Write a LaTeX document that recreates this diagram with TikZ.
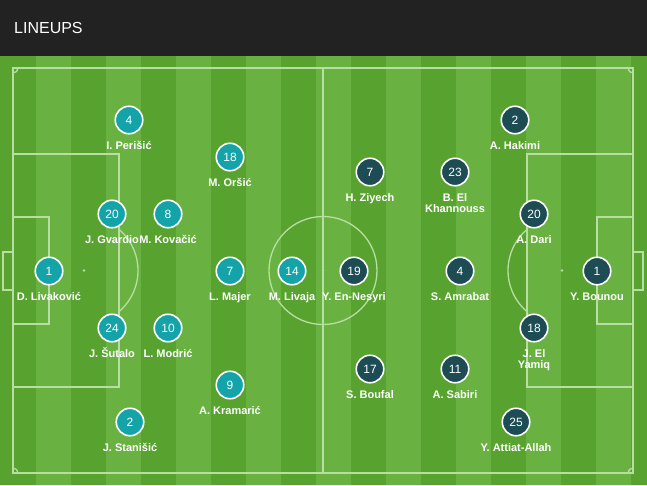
\documentclass[tikz,border=0pt]{standalone}
\usepackage{fontspec}
\setmainfont{Liberation Sans}
\usetikzlibrary{calc}

\definecolor{topbar}{HTML}{222222}
\definecolor{grassdark}{HTML}{58A22F}
\definecolor{grasslight}{HTML}{69B242}
\definecolor{pitchline}{HTML}{B8DEA2}
\definecolor{croteal}{HTML}{14A3A8}
\definecolor{mordark}{HTML}{1D4C54}

\newcommand{\twoline}[2]{\begin{tabular}[t]{@{}c@{}}#1\\#2\end{tabular}}

\begin{document}
\begin{tikzpicture}[x=1pt,y=-1pt,
    cro/.style={circle,draw=white,line width=1.6pt,fill=croteal,text=white,
        minimum size=27.5pt,inner sep=0pt,font=\fontsize{12}{12}\selectfont},
    mor/.style={cro,fill=mordark},
    pname/.style={text=white,font=\fontsize{11}{11}\selectfont\bfseries,
        anchor=base,inner sep=0pt},
    chalk/.style={draw=pitchline,line width=1.3pt}]

    \useasboundingbox (0,0) rectangle (647,485);

    % header and grass
    \fill [topbar] (0,0) rectangle (647,56);
    \node (title) at (14,28) [anchor=west,text=white,inner sep=0pt,
        font=\fontsize{16}{16}\selectfont] {LINEUPS};
    \fill [grassdark] (0,56) rectangle (647,485);
    \foreach \k in {1,3,...,17}
        \fill [grasslight] (1+35*\k,56) rectangle (36+35*\k,485);

    % pitch markings
    \draw [chalk] (13,68) rectangle (633,473);
    \draw [chalk] (323,68) -- (323,473);
    \draw [chalk] (323,270.5) circle [radius=54];
    \draw [chalk] (13,154) rectangle (119,387);
    \draw [chalk] (13,217) rectangle (49,324);
    \draw [chalk] (3,252) rectangle (13,290);
    \draw [chalk] (527,154) rectangle (633,387);
    \draw [chalk] (597,217) rectangle (633,324);
    \draw [chalk] (633,252) rectangle (643,290);
    \draw [chalk] ($(84,270.5) + (-49.6:54)$) arc [start angle=-49.6, end angle=49.6, radius=54];
    \draw [chalk] ($(562,270.5) + (130.4:54)$) arc [start angle=130.4, end angle=229.6, radius=54];
    \begin{scope}
        \clip (13,68) rectangle (633,473);
        \foreach \cx/\cy in {13/68, 633/68, 13/473, 633/473}
            \draw [chalk] (\cx,\cy) circle [radius=5];
    \end{scope}
    \foreach \s in {84,323,562}
        \fill [pitchline] (\s,270.5) circle [radius=1.4];

    % Croatia
    \foreach \n/\x/\y/\num/\who in {
            H4/129/120/4/{I. Perišić},
            H18/230/157/18/{M. Oršić},
            H20/112/214/20/{J. Gvardio},
            H8/168/214/8/{M. Kovačić},
            H1/49/271/1/{D. Livaković},
            H7/230/271/7/{L. Majer},
            H14/292/271/14/{M. Livaja},
            H24/112/328/24/{J. Šutalo},
            H10/168/328/10/{L. Modrić},
            H9/230/385/9/{A. Kramarić},
            H2/130/422/2/{J. Stanišić}}
        {
            \node (\n) at (\x,\y) [cro] {\num};
            \node (\n t) at ($(\n) + (0,29.5)$) [pname] {\who};
        }

    % Morocco
    \foreach \n/\x/\y/\num/\who in {
            M2/515/120/2/{A. Hakimi},
            M7/370/172/7/{H. Ziyech},
            M23/455/172/23/{\twoline{B. El}{Khannouss}},
            M20/534/214/20/{A. Dari},
            M19/354/271/19/{Y. En-Nesyri},
            M4/460/271/4/{S. Amrabat},
            M1/597/271/1/{Y. Bounou},
            M18/534/328/18/{\twoline{J. El}{Yamiq}},
            M17/370/369/17/{S. Boufal},
            M11/455/369/11/{A. Sabiri},
            M25/516/422/25/{Y. Attiat-Allah}}
        {
            \node (\n) at (\x,\y) [mor] {\num};
            \node (\n t) at ($(\n) + (0,29.5)$) [pname] {\who};
        }

\end{tikzpicture}
\end{document}
